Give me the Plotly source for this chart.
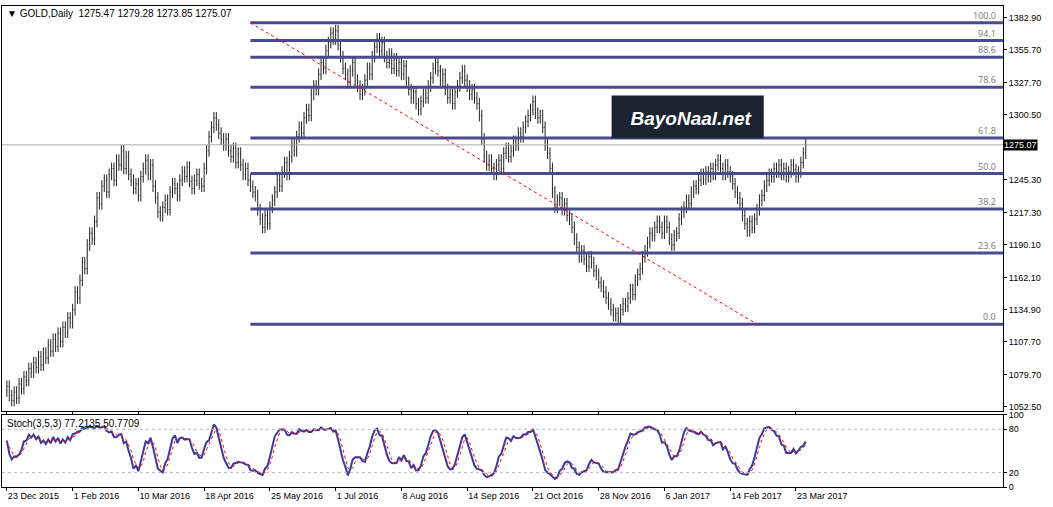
import plotly.graph_objs as go

# daily closes, GOLD
closes = [
    1070,1062,1058,1065,1060,1072,1068,1078,1075,1085,
    1082,1090,1086,1095,1088,1098,1094,1105,1100,1110,
    1104,1115,1108,1120,1116,1128,1124,1135,1150,1145,
    1160,1175,1170,1190,1200,1195,1210,1230,1225,1240,
    1245,1235,1250,1255,1245,1262,1258,1270,1255,1265,
    1250,1245,1238,1242,1232,1248,1255,1262,1250,1258,
    1240,1230,1218,1215,1222,1228,1220,1235,1242,1238,
    1232,1245,1252,1248,1256,1244,1238,1245,1250,1242,
    1240,1255,1270,1282,1290,1298,1292,1285,1280,1275,
    1280,1270,1265,1272,1260,1268,1258,1250,1255,1245,
    1240,1235,1232,1220,1212,1205,1215,1208,1222,1228,
    1235,1245,1240,1252,1260,1250,1265,1275,1270,1282,
    1290,1285,1298,1305,1300,1318,1325,1322,1335,1345,
    1340,1355,1362,1370,1365,1372,1360,1350,1340,1335,
    1328,1338,1345,1330,1325,1318,1322,1330,1340,1335,
    1350,1358,1365,1355,1362,1350,1345,1352,1340,1348,
    1338,1345,1335,1342,1328,1322,1315,1320,1310,1305,
    1312,1318,1315,1325,1332,1340,1345,1338,1330,1335,
    1322,1315,1318,1310,1320,1325,1332,1338,1330,1325,
    1318,1322,1315,1310,1300,1280,1265,1258,1262,1255,
    1250,1258,1262,1255,1268,1272,1265,1270,1278,1275,
    1285,1282,1290,1295,1300,1305,1312,1302,1298,1300,
    1290,1275,1268,1255,1235,1222,1228,1230,1220,1225,
    1215,1212,1205,1195,1188,1180,1185,1178,1172,1180,
    1175,1168,1165,1158,1155,1150,1145,1140,1135,1130,
    1132,1128,1135,1140,1138,1145,1152,1148,1160,1165,
    1170,1180,1185,1192,1200,1198,1205,1210,1205,1200,
    1210,1205,1195,1190,1198,1200,1212,1218,1222,1228,
    1225,1235,1240,1238,1245,1250,1246,1252,1248,1255,
    1250,1258,1262,1255,1250,1258,1252,1248,1242,1235,
    1230,1225,1215,1208,1202,1210,1205,1212,1220,1228,
    1232,1240,1245,1250,1248,1255,1252,1258,1250,1255,
    1248,1252,1258,1254,1248,1252,1260,1268,1275.07,
]
date_pos = [0, 27, 54, 81, 108, 135, 162, 189, 216, 243, 270, 297, 324]
date_labels = ["23 Dec 2015", "1 Feb 2016", "10 Mar 2016", "18 Apr 2016", "25 May 2016",
               "1 Jul 2016", "8 Aug 2016", "14 Sep 2016", "21 Oct 2016", "28 Nov 2016",
               "6 Jan 2017", "14 Feb 2017", "23 Mar 2017"]
price_ticks = [1052.50, 1079.70, 1107.70, 1134.90, 1162.10, 1190.10, 1217.30,
               1245.30, 1300.50, 1327.70, 1355.70, 1382.90]
fib_high, fib_low = 1378.7, 1122.7
fib_levels = [0.0, 23.6, 38.2, 50.0, 61.8, 78.6, 88.6, 94.1, 100.0]
fib_start = 100

n = len(closes)
x = list(range(n))
opens = [closes[0] - 4] + closes[:-1]
highs = [max(o, c) + 5 for o, c in zip(opens, closes)]
lows = [min(o, c) - 5 for o, c in zip(opens, closes)]

# stochastic 3,5,3
k_raw = []
for i in range(n):
    a = max(0, i - 2)
    hh, ll = max(highs[a:i + 1]), min(lows[a:i + 1])
    k_raw.append(100 * (closes[i] - ll) / (hh - ll) if hh > ll else 50)
main = []
for i in range(n):
    a = max(0, i - 4)
    main.append(sum(k_raw[a:i + 1]) / (i + 1 - a))
sig = []
for i in range(n):
    a = max(0, i - 2)
    sig.append(sum(main[a:i + 1]) / (i + 1 - a))

fig = go.Figure()
fig.add_trace(go.Ohlc(x=x, open=opens, high=highs, low=lows, close=closes,
                      increasing_line_color="#222", decreasing_line_color="#222",
                      line_width=1, tickwidth=0.3, xaxis="x", yaxis="y"))
fig.add_trace(go.Scatter(x=x, y=main, mode="lines", line=dict(color="#3a3a9a", width=2),
                         xaxis="x2", yaxis="y2"))
fig.add_trace(go.Scatter(x=x, y=sig, mode="lines", line=dict(color="red", width=1, dash="dot"),
                         xaxis="x2", yaxis="y2"))

xr = [-2, 409]
for lv in fib_levels:
    p = fib_low + (fib_high - fib_low) * lv / 100
    fig.add_shape(type="line", x0=fib_start, x1=xr[1], y0=p, y1=p, xref="x", yref="y",
                  line=dict(color="#4a4a90", width=3))
    fig.add_annotation(x=xr[1] - 2, y=p, xref="x", yref="y", text="%.1f" % lv, showarrow=False,
                       xanchor="right", yanchor="bottom", yshift=-1, font=dict(size=9, color="#777"))
fig.add_shape(type="line", x0=fib_start, x1=308, y0=fib_high, y1=fib_low, xref="x", yref="y",
              line=dict(color="red", width=1, dash="dot"))
fig.add_shape(type="line", x0=xr[0], x1=xr[1], y0=closes[-1], y1=closes[-1], xref="x", yref="y",
              line=dict(color="#aaa", width=1))

# watermark
fig.add_shape(type="rect", x0=0.609, x1=0.761, y0=0.725, y1=0.814, xref="paper", yref="paper",
              fillcolor="#1c2330", line_width=0)
fig.add_annotation(x=0.612, y=0.793, xref="paper", yref="paper", xanchor="left",
                   text="<b><i>BayoNaal.net</i></b>", showarrow=False, width=148, align="center",
                   font=dict(size=19, color="white", family="Arial"))

fig.add_annotation(x=0.003, y=1.0, xref="paper", yref="paper", xanchor="left", yanchor="top",
                   text="▼ GOLD,Daily  1275.47 1279.28 1273.85 1275.07", showarrow=False,
                   font=dict(size=10, color="black", family="Arial"))
fig.add_annotation(x=0.003, y=0.148, xref="paper", yref="paper", xanchor="left", yanchor="top",
                   text="Stoch(3,5,3) 77.2135 50.7709", showarrow=False,
                   font=dict(size=10, color="black", family="Arial"))
fig.add_annotation(x=1.0, y=closes[-1], xref="paper", yref="y", xanchor="left",
                   text="1275.07", showarrow=False, bgcolor="black", borderpad=0,
                   font=dict(size=9, color="white", family="Arial"))

ax = dict(showgrid=False, zeroline=False, showline=True, mirror=True, linecolor="black",
          linewidth=1, ticks="outside", tickcolor="black", ticklen=3,
          tickfont=dict(size=9, color="black", family="Arial"))
fig.update_layout(
    width=1053, height=507, showlegend=False,
    margin=dict(l=1, r=50, t=2, b=20),
    paper_bgcolor="white", plot_bgcolor="white",
    xaxis=dict(ax, range=xr, domain=[0, 1], anchor="y", showticklabels=False,
               tickvals=date_pos, rangeslider=dict(visible=False)),
    xaxis2=dict(ax, range=xr, domain=[0, 1], anchor="y2", tickvals=date_pos, ticktext=date_labels,
                ticklabelposition="outside right"),
    yaxis=dict(ax, side="right", range=[1049, 1393], domain=[0.158, 1], tickvals=price_ticks,
               ticktext=["%.2f" % t for t in price_ticks]),
    yaxis2=dict(ax, side="right", range=[0, 100], domain=[0, 0.15], tickvals=[0, 20, 80, 100]),
)
for yv in [20, 80]:
    fig.add_shape(type="line", x0=xr[0], x1=xr[1], y0=yv, y1=yv, xref="x2", yref="y2",
                  line=dict(color="#bbb", width=1, dash="dot"))

fig.write_html("out.html", config={"displayModeBar": False},
               post_script="document.body.style.margin='0';")
